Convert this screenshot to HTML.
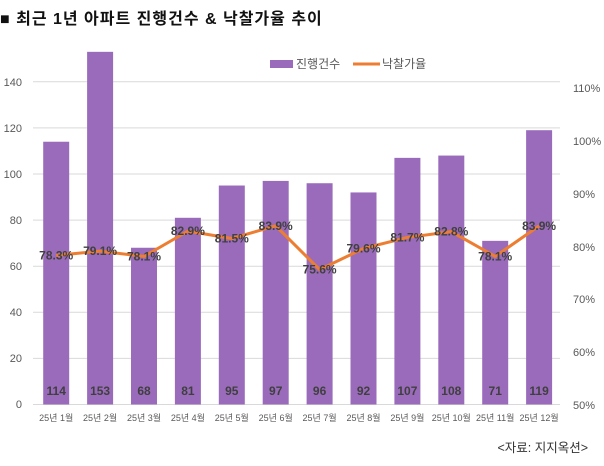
<!DOCTYPE html>
<html><head><meta charset="utf-8"><style>
body{margin:0;background:#fff;}
svg text{font-family:"Liberation Sans","Noto Sans CJK KR",sans-serif;}
</style></head><body>
<svg width="604" height="461" xmlns="http://www.w3.org/2000/svg">
<rect width="604" height="461" fill="#fff"/>
<text x="0" y="24" font-size="16" font-weight="bold" fill="#111" letter-spacing="1">■ 최근 1년 아파트 진행건수 &amp; 낙찰가율 추이</text>
<g stroke="#d9d9d9" stroke-width="1">
<line x1="33" x2="560" y1="404.5" y2="404.5"/>
<line x1="33" x2="560" y1="358.4" y2="358.4"/>
<line x1="33" x2="560" y1="312.3" y2="312.3"/>
<line x1="33" x2="560" y1="266.2" y2="266.2"/>
<line x1="33" x2="560" y1="220.1" y2="220.1"/>
<line x1="33" x2="560" y1="174" y2="174"/>
<line x1="33" x2="560" y1="127.9" y2="127.9"/>
<line x1="33" x2="560" y1="81.8" y2="81.8"/>
</g>
<g font-size="11" fill="#595959" text-anchor="end">
<text x="22" y="408">0</text><text x="22" y="362">20</text><text x="22" y="316">40</text>
<text x="22" y="270">60</text><text x="22" y="224">80</text><text x="22" y="178">100</text>
<text x="22" y="132">120</text><text x="22" y="86">140</text>
</g>
<g font-size="11" fill="#595959" text-anchor="start">
<text x="573" y="409">50%</text><text x="573" y="356">60%</text><text x="573" y="303">70%</text>
<text x="573" y="251">80%</text><text x="573" y="198">90%</text><text x="573" y="145">100%</text>
<text x="573" y="92">110%</text>
</g>
<g fill="#9a6bbb" id="bars"></g>
<g id="rest"></g>
<rect x="270" y="60" width="23" height="8" fill="#9a6bbb"/>
<text x="296" y="68" font-size="12" fill="#595959">진행건수</text>
<line x1="353" x2="380" y1="64" y2="64" stroke="#ed7d31" stroke-width="3"/>
<text x="382" y="68" font-size="12" fill="#595959">낙찰가율</text>
<text x="588" y="452" font-size="12.5" fill="#333" text-anchor="end">&lt;자료: 지지옥션&gt;</text>
<script>
var v=[114,153,68,81,95,97,96,92,107,108,71,119];
var r=[78.3,79.1,78.1,82.9,81.5,83.9,75.6,79.6,81.7,82.8,78.1,83.9];
var ns="http://www.w3.org/2000/svg",b=document.getElementById('bars'),g=document.getElementById('rest');
function el(t,a,p,txt){var e=document.createElementNS(ns,t);for(var k in a)e.setAttribute(k,a[k]);if(txt)e.textContent=txt;p.appendChild(e);return e;}
var pts=[];
for(var i=0;i<12;i++){var cx=56.2+i*43.9;var h=v[i]*2.305;
el('rect',{x:cx-13,y:404.5-h,width:26,height:h},b);
el('text',{x:cx,y:395,'font-size':12,'font-weight':'bold',fill:'#3f3f3f','text-anchor':'middle'},g,String(v[i]));
el('text',{x:cx,y:421,'font-size':9,fill:'#595959','text-anchor':'middle'},g,'25년 '+(i+1)+'월');
pts.push([cx,404.5-(r[i]-50)*5.27]);}
el('polyline',{points:pts.map(function(p){return p.join(',')}).join(' '),fill:'none',stroke:'#ed7d31','stroke-width':3,'stroke-linejoin':'round'},g);
for(var i=0;i<12;i++){el('text',{x:pts[i][0],y:pts[i][1]+4,'font-size':12,'font-weight':'bold',fill:'#404040','text-anchor':'middle'},g,r[i].toFixed(1)+'%');}
</script>
</svg>
</body></html>
